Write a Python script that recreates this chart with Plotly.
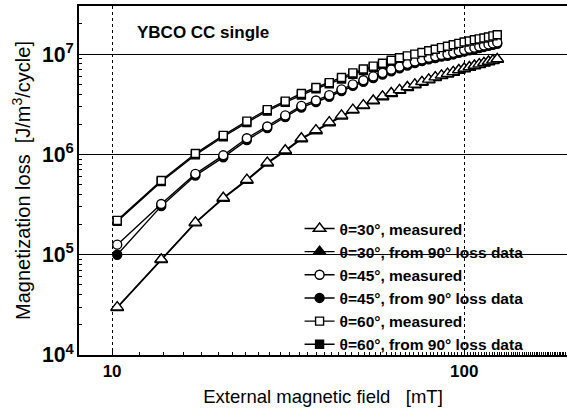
import plotly.graph_objects as go

# External magnetic field [mT]
field_mT = [10.34, 13.79, 17.24, 20.69, 24.14, 27.59, 31.03, 34.48, 37.93, 41.38,
            44.83, 48.28, 51.72, 55.17, 58.62, 62.07, 65.52, 68.97, 72.41, 75.86,
            79.31, 82.76, 86.21, 89.66, 93.10, 96.55, 100.0, 103.45, 106.90, 110.34,
            113.79, 117.24, 120.69, 124.14]

# Magnetization loss [J/m^3/cycle]
loss_30_meas = [3.0e4, 9.0e4, 2.1e5, 3.7e5, 5.6e5, 8.3e5, 1.1e6, 1.45e6, 1.75e6, 2.1e6,
                2.45e6, 2.8e6, 3.1e6, 3.45e6, 3.8e6, 4.1e6, 4.4e6, 4.7e6, 5.0e6, 5.3e6,
                5.6e6, 5.9e6, 6.15e6, 6.4e6, 6.65e6, 6.95e6, 7.2e6, 7.45e6, 7.7e6, 7.95e6,
                8.2e6, 8.45e6, 8.7e6, 8.95e6]
loss_30_calc = [2.95e4, 8.9e4, 2.07e5, 3.63e5, 5.5e5, 8.15e5, 1.08e6, 1.42e6, 1.71e6, 2.06e6,
                2.4e6, 2.75e6, 3.05e6, 3.4e6, 3.74e6, 4.03e6, 4.33e6, 4.63e6, 4.93e6, 5.22e6,
                5.52e6, 5.82e6, 6.07e6, 6.31e6, 6.56e6, 6.86e6, 7.1e6, 7.35e6, 7.6e6, 7.85e6,
                8.1e6, 8.35e6, 8.6e6, 8.85e6]
loss_45_meas = [1.26e5, 3.2e5, 6.4e5, 9.8e5, 1.45e6, 1.9e6, 2.45e6, 3.05e6, 3.45e6, 3.9e6,
                4.45e6, 5.0e6, 5.5e6, 6.0e6, 6.5e6, 7.0e6, 7.5e6, 8.0e6, 8.45e6, 8.85e6,
                9.2e6, 9.5e6, 9.8e6, 1.0e7, 1.03e7, 1.07e7, 1.1e7, 1.13e7, 1.16e7, 1.19e7,
                1.22e7, 1.25e7, 1.28e7, 1.31e7]
loss_45_calc = [1.0e5, 3.05e5, 6.15e5, 9.35e5, 1.39e6, 1.83e6, 2.36e6, 2.94e6, 3.33e6, 3.76e6,
                4.29e6, 4.82e6, 5.3e6, 5.78e6, 6.26e6, 6.74e6, 7.22e6, 7.7e6, 8.13e6, 8.52e6,
                8.86e6, 9.15e6, 9.44e6, 9.64e6, 9.93e6, 1.03e7, 1.06e7, 1.09e7, 1.12e7, 1.15e7,
                1.18e7, 1.21e7, 1.24e7, 1.27e7]
loss_60_meas = [2.2e5, 5.5e5, 1.02e6, 1.55e6, 2.15e6, 2.8e6, 3.4e6, 4.05e6, 4.65e6, 5.2e6,
                5.85e6, 6.5e6, 7.1e6, 7.6e6, 8.1e6, 8.7e6, 9.2e6, 9.6e6, 1.0e7, 1.04e7,
                1.08e7, 1.12e7, 1.16e7, 1.2e7, 1.24e7, 1.28e7, 1.32e7, 1.35e7, 1.39e7, 1.42e7,
                1.45e7, 1.48e7, 1.52e7, 1.56e7]
loss_60_calc = [2.15e5, 5.35e5, 9.9e5, 1.5e6, 2.08e6, 2.7e6, 3.3e6, 3.92e6, 4.5e6, 5.05e6,
                5.65e6, 6.3e6, 6.88e6, 7.38e6, 7.86e6, 8.44e6, 8.92e6, 9.3e6, 9.7e6, 1.01e7,
                1.05e7, 1.09e7, 1.13e7, 1.16e7, 1.2e7, 1.24e7, 1.28e7, 1.31e7, 1.35e7, 1.38e7,
                1.41e7, 1.44e7, 1.47e7, 1.51e7]

x_tick_vals = [10, 100]
x_tick_text = ["10", "100"]

FONT = "Liberation Sans, Arial, sans-serif"

# (name, values, symbol, size, rank) — filled series drawn first, open on top
series = [
    ("θ=30°, from 90° loss data", loss_30_calc, "triangle-up", 11, 2),
    ("θ=45°, from 90° loss data", loss_45_calc, "circle", 9, 4),
    ("θ=60°, from 90° loss data", loss_60_calc, "square", 8, 6),
    ("θ=30°, measured", loss_30_meas, "triangle-up-open", 11, 1),
    ("θ=45°, measured", loss_45_meas, "circle-open", 9, 3),
    ("θ=60°, measured", loss_60_meas, "square-open", 8, 5),
]

fig = go.Figure()
for name, vals, sym, size, rank in series:
    is_open = sym.endswith("-open")
    base = sym.replace("-open", "")
    fig.add_trace(go.Scatter(
        x=field_mT, y=vals, name=name, mode="lines+markers",
        legendrank=rank,
        line=dict(color="black", width=1.4),
        marker=dict(symbol=base, size=size,
                    color="white" if is_open else "black",
                    line=dict(color="black", width=1.4)),
    ))

fig.add_annotation(text="<b>YBCO CC single</b>", xref="paper", yref="paper",
                   x=0.115, y=0.925, xanchor="left", yanchor="middle",
                   showarrow=False, font=dict(family=FONT, size=17, color="black"))

fig.update_layout(
    width=567, height=410,
    margin=dict(l=79, r=0, t=6, b=55),
    paper_bgcolor="white", plot_bgcolor="white",
    font=dict(family=FONT, color="black"),
    showlegend=True,
    legend=dict(x=0.452, y=0.41, xanchor="left", yanchor="top",
                bgcolor="rgba(255,255,255,0)", borderwidth=0,
                font=dict(family=FONT, size=15.5, color="black", weight="bold"),
                itemwidth=30, tracegroupgap=0),
)

fig.update_xaxes(
    type="log", range=[0.906, 2.292],
    tickvals=x_tick_vals, ticktext=x_tick_text,
    tickfont=dict(family=FONT, size=17, color="black", weight="bold"),
    showline=True, linecolor="black", linewidth=1.5, mirror=True,
    ticks="inside", ticklen=5, tickcolor="black",
    minor=dict(ticks="inside", ticklen=3, tickcolor="black", showgrid=False),
    showgrid=True, gridcolor="black", gridwidth=1, griddash="dot",
    zeroline=False,
    title=dict(text="External magnetic field &nbsp;&nbsp;[mT]", standoff=10,
               font=dict(family=FONT, size=18.5, color="black")),
)

fig.update_yaxes(
    type="log", range=[4, 7.48], dtick=1, exponentformat="power",
    tickfont=dict(family=FONT, size=17, color="black", weight="bold"),
    showline=True, linecolor="black", linewidth=1.5, mirror=False,
    ticks="inside", ticklen=6, tickcolor="black",
    minor=dict(ticks="inside", ticklen=3, tickcolor="black", showgrid=False),
    showgrid=True, gridcolor="black", gridwidth=1,
    zeroline=False,
    title=dict(text="Magnetization loss &nbsp;[J/m<sup>3</sup>/cycle]", standoff=6,
               font=dict(family=FONT, size=20, color="black")),
)

fig.write_html("out.html")
